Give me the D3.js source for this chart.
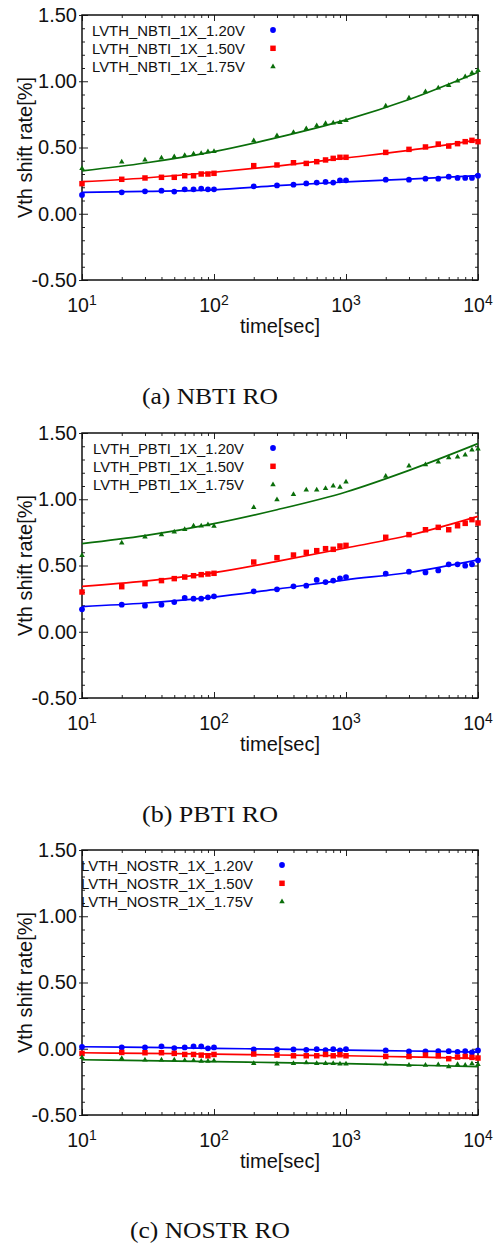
<!DOCTYPE html>
<html>
<head>
<meta charset="utf-8">
<script src="https://cdn.jsdelivr.net/npm/d3@7"></script>
<style>
body { margin: 0; background: #fff; }
svg { display: block; }
</style>
</head>
<body>
<svg width="501" height="1245"></svg>
<script>
// measurement times (sec)
var times = [10,20,30,40,50,60,70,80,90,100,200,300,400,500,600,700,800,900,1000,2000,3000,4000,5000,6000,7000,8000,9000,10000];
// times where the fitted curves were read
var fitTimes = [10,30,100,300,1000,3000,10000];

var yTicks = [-0.5, 0, 0.5, 1.0, 1.5];
var yTickLabels = ["-0.50","0.00","0.50","1.00","1.50"];
var xTicks = [10,100,1000,10000];
var xTickExp = ["1","2","3","4"];

// (a) NBTI
var nbtiNames = ["LVTH_NBTI_1X_1.20V","LVTH_NBTI_1X_1.50V","LVTH_NBTI_1X_1.75V"];
var nbti120 = [0.142,0.162,0.169,0.174,0.167,0.184,0.184,0.19,0.184,0.184,0.207,0.214,0.219,0.229,0.235,0.24,0.235,0.252,0.252,0.257,0.257,0.265,0.265,0.28,0.27,0.27,0.27,0.287];
var nbti150 = [0.227,0.26,0.27,0.275,0.275,0.287,0.287,0.30,0.30,0.305,0.363,0.368,0.385,0.38,0.393,0.406,0.418,0.426,0.426,0.463,0.486,0.504,0.526,0.511,0.529,0.544,0.554,0.544];
var nbti175 = [0.343,0.391,0.406,0.421,0.431,0.441,0.451,0.456,0.469,0.471,0.552,0.589,0.614,0.642,0.665,0.682,0.685,0.69,0.705,0.813,0.874,0.921,0.949,0.969,1.002,1.035,1.062,1.082];
var nbtiFit120 = [0.162,0.169,0.180,0.212,0.240,0.262,0.287];
var nbtiFit150 = [0.242,0.270,0.313,0.360,0.421,0.478,0.557];
var nbtiFit175 = [0.323,0.383,0.469,0.574,0.708,0.862,1.068];

// (b) PBTI
var pbtiNames = ["LVTH_PBTI_1X_1.20V","LVTH_PBTI_1X_1.50V","LVTH_PBTI_1X_1.75V"];
var pbti120 = [0.169,0.204,0.197,0.204,0.224,0.255,0.25,0.25,0.26,0.267,0.305,0.32,0.343,0.348,0.391,0.375,0.386,0.403,0.413,0.438,0.453,0.448,0.463,0.509,0.509,0.499,0.509,0.539];
var pbti150 = [0.30,0.34,0.363,0.386,0.401,0.413,0.423,0.431,0.436,0.441,0.526,0.559,0.579,0.599,0.612,0.627,0.622,0.647,0.652,0.713,0.733,0.77,0.788,0.77,0.80,0.818,0.846,0.821];
var pbti175 = [0.577,0.67,0.715,0.733,0.753,0.773,0.798,0.798,0.808,0.796,0.939,0.997,1.037,1.07,1.07,1.082,1.10,1.092,1.13,1.175,1.251,1.261,1.281,1.314,1.319,1.334,1.372,1.379];
var pbtiFit120 = [0.190,0.217,0.262,0.322,0.392,0.447,0.542];
var pbtiFit150 = [0.343,0.382,0.446,0.531,0.632,0.728,0.871];
var pbtiFit175 = [0.665,0.725,0.816,0.921,1.055,1.218,1.42];

// (c) NOSTR
var nostrNames = ["LVTH_NOSTR_1X_1.20V","LVTH_NOSTR_1X_1.50V","LVTH_NOSTR_1X_1.75V"];
var nostr120 = [0.015,0.01,0.01,0.018,0.005,0.01,0.018,0.018,0.003,0.01,-0.005,-0.005,-0.005,-0.008,-0.003,-0.01,-0.003,-0.013,-0.003,-0.013,-0.02,-0.02,-0.018,-0.018,-0.023,-0.018,-0.028,-0.013];
var nostr150 = [-0.035,-0.028,-0.03,-0.03,-0.035,-0.043,-0.043,-0.048,-0.053,-0.043,-0.04,-0.048,-0.053,-0.053,-0.053,-0.043,-0.053,-0.045,-0.053,-0.058,-0.058,-0.048,-0.053,-0.075,-0.063,-0.058,-0.065,-0.07];
var nostr175 = [-0.065,-0.073,-0.085,-0.085,-0.085,-0.088,-0.088,-0.093,-0.093,-0.09,-0.11,-0.115,-0.11,-0.105,-0.11,-0.11,-0.11,-0.115,-0.115,-0.115,-0.123,-0.123,-0.12,-0.135,-0.118,-0.123,-0.113,-0.118];
var nostrFit120 = [0.015,0.01,0.003,-0.003,-0.01,-0.017,-0.025];
var nostrFit150 = [-0.03,-0.035,-0.04,-0.047,-0.053,-0.062,-0.072];
var nostrFit175 = [-0.083,-0.09,-0.097,-0.105,-0.113,-0.123,-0.135];

var colors = ["#0000ff","#ff0000","#0a6e0a"];
var shapes = [d3.symbolCircle, d3.symbolSquare, d3.symbolTriangle];
var sizes = [26, 30, 13];

var panels = [
  {top:15, names:nbtiNames, vals:[nbti120,nbti150,nbti175], fits:[nbtiFit120,nbtiFit150,nbtiFit175], legX:92, legTextLen:153, legMark:273, caption:"(a) NBTI RO", capY:404, capLen:136},
  {top:433, names:pbtiNames, vals:[pbti120,pbti150,pbti175], fits:[pbtiFit120,pbtiFit150,pbtiFit175], legX:93, legTextLen:151, legMark:273, caption:"(b) PBTI RO", capY:822, capLen:136},
  {top:850, names:nostrNames, vals:[nostr120,nostr150,nostr175], fits:[nostrFit120,nostrFit150,nostrFit175], legX:81, legTextLen:172, legMark:282, caption:"(c) NOSTR RO", capY:1238, capLen:160}
];

var left = 82, w = 396, h = 265;
var svg = d3.select("svg");
var font = "'Liberation Sans', Arial, sans-serif";

var x = d3.scaleLog().domain([10,10000]).range([0,w]);
var y = d3.scaleLinear().domain([-0.5,1.5]).range([h,0]);

var minorX = [];
[10,100,1000].forEach(function(d){ for (var k=2;k<10;k++) minorX.push(d*k); });
var minorY = d3.range(-5,16).map(function(i){ return i/10; }).filter(function(v){ return Math.round(v*10)%5 != 0; });

panels.forEach(function(p, pi)
{
    var g = svg.append("g").attr("transform","translate("+left+","+p.top+")");

    svg.append("defs").append("clipPath").attr("id","clip"+pi)
        .append("rect").attr("width",w).attr("height",h);

    // ticks, all pointing inward
    function addAxis(axis, tx, ty)
    {
        var a = g.append("g").attr("transform","translate("+tx+","+ty+")").call(axis);
        a.select(".domain").remove();
        a.selectAll("line").attr("stroke","#222").attr("stroke-width",1);
        return a;
    }
    addAxis(d3.axisLeft(y).tickValues(minorY).tickSize(-3).tickFormat(""),0,0);
    addAxis(d3.axisRight(y).tickValues(minorY).tickSize(-3).tickFormat(""),w,0);
    addAxis(d3.axisBottom(x).tickValues(minorX).tickSize(-3).tickFormat(""),0,h);
    addAxis(d3.axisTop(x).tickValues(minorX).tickSize(-3).tickFormat(""),0,0);
    addAxis(d3.axisRight(y).tickValues(yTicks).tickSize(-6).tickFormat(""),w,0);
    addAxis(d3.axisBottom(x).tickValues(xTicks).tickSize(-6).tickFormat(""),0,h);
    addAxis(d3.axisTop(x).tickValues(xTicks).tickSize(-6).tickFormat(""),0,0);
    var ya = addAxis(d3.axisLeft(y).tickValues(yTicks).tickSize(-6).tickPadding(5)
        .tickFormat(function(d,i){ return yTickLabels[i]; }),0,0);
    ya.selectAll("text").attr("font-family",font).attr("font-size",20).attr("fill","#111");
    ya.selectAll(".tick").append("line").attr("x1",-3).attr("x2",0).attr("stroke","#222");

    // x tick labels with exponent
    var xl = g.append("g").selectAll("text").data(xTicks).enter().append("text")
        .attr("x",function(d){ return x(d); })
        .attr("y",h+32)
        .attr("text-anchor","middle")
        .attr("font-family",font).attr("font-size",19.5).attr("fill","#111");
    xl.append("tspan").text("10");
    xl.append("tspan").attr("font-size",14).attr("dy",-7).text(function(d,i){ return xTickExp[i]; });

    // frame
    g.append("rect").attr("width",w).attr("height",h)
        .attr("fill","none").attr("stroke","#111").attr("stroke-width",1.5);

    // fitted curves
    var line = d3.line()
        .x(function(d){ return x(d[0]); })
        .y(function(d){ return y(d[1]); })
        .curve(d3.curveMonotoneX);
    p.fits.forEach(function(f, si)
    {
        g.append("path")
            .datum(fitTimes.map(function(t,i){ return [t,f[i]]; }))
            .attr("d",line).attr("fill","none")
            .attr("stroke",colors[si]).attr("stroke-width",1.7);
    });

    // measured points
    p.vals.forEach(function(v, si)
    {
        g.append("g").selectAll("path").data(times).enter().append("path")
            .attr("transform",function(t,i){ return "translate("+x(t)+","+y(v[i])+")"; })
            .attr("d",d3.symbol().type(shapes[si]).size(sizes[si]))
            .attr("fill",colors[si]);
    });

    // legend
    var leg = g.append("g").attr("clip-path","url(#clip"+pi+")");
    p.names.forEach(function(n, si)
    {
        var cy = 15 + si*18.3;
        leg.append("text").attr("x",p.legX-left).attr("y",cy+5.5)
            .attr("font-family",font).attr("font-size",15).attr("fill","#111")
            .attr("textLength",p.legTextLen).attr("lengthAdjust","spacingAndGlyphs")
            .text(n);
        g.append("path").attr("transform","translate("+(p.legMark-left)+","+cy+")")
            .attr("d",d3.symbol().type(shapes[si]).size(sizes[si]))
            .attr("fill",colors[si]);
    });

    // axis titles
    g.append("text").attr("x",w/2).attr("y",h+53).attr("text-anchor","middle")
        .attr("font-family",font).attr("font-size",20).attr("fill","#111").text("time[sec]");
    g.append("text").attr("transform","translate("+(25-left+7)+","+(h/2)+") rotate(-90)")
        .attr("text-anchor","middle")
        .attr("font-family",font).attr("font-size",20).attr("fill","#111").text("Vth shift rate[%]");

    // caption
    svg.append("text").attr("x",210).attr("y",p.capY).attr("text-anchor","middle")
        .attr("font-family","'Liberation Serif','DejaVu Serif',serif").attr("font-size",23)
        .attr("textLength",p.capLen).attr("lengthAdjust","spacingAndGlyphs")
        .attr("fill","#111").text(p.caption);
});
</script>
</body>
</html>
